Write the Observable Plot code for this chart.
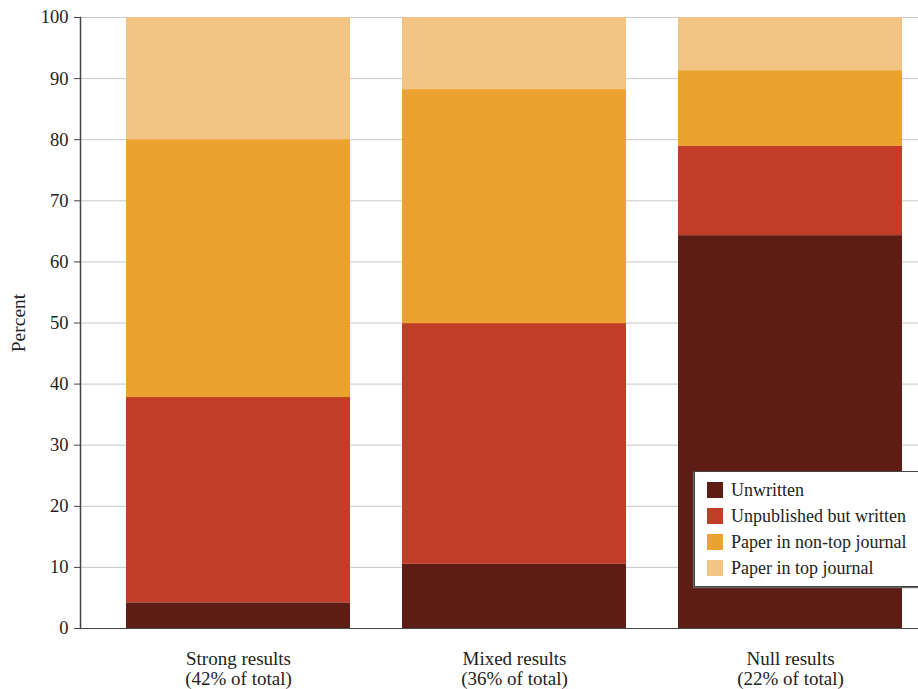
<!DOCTYPE html>
<html>
<head>
<meta charset="utf-8">
<script src="https://cdn.jsdelivr.net/npm/d3@7"></script>
<script src="https://cdn.jsdelivr.net/npm/@observablehq/plot@0.6"></script>
<style>
  html, body { margin: 0; padding: 0; background: #fff; overflow: hidden; }
  #wrap { position: relative; width: 918px; height: 689px; overflow: hidden; font-family: "Liberation Serif", "Times New Roman", Tinos, "DejaVu Serif", "Noto Serif", FreeSerif, Georgia, serif; }
  #legend { position: absolute; left: 694px; top: 471px; width: 240px; height: 116px; background: #fff;
            border: 1px solid #444; box-shadow: -1px 1px 1px #666; box-sizing: border-box; padding-top: 5px; }
  .row { display: flex; align-items: center; height: 26px; padding-left: 12px; font-size: 18px; color: #222; }
  .sw { width: 16px; height: 16px; margin-right: 8px; flex: none; }
</style>
</head>
<body>
<div id="wrap"></div>
<script>
const categories = ["Strong results", "Mixed results", "Null results"];
const shares = ["42%", "36%", "22%"];
const series = ["Unwritten", "Unpublished but written", "Paper in non-top journal", "Paper in top journal"];
const colors = ["#5d1d15", "#c13d27", "#eba22e", "#f3c584"];
const unwritten = [4.2, 10.5, 64.3];
const unpublished = [33.6, 39.4, 14.6];
const nonTop = [42.2, 38.3, 12.4];
const topJournal = [20.0, 11.8, 8.7];
const yTicks = [0, 10, 20, 30, 40, 50, 60, 70, 80, 90, 100];

const valuesBySeries = [unwritten, unpublished, nonTop, topJournal];
const data = [];
series.forEach((s, si) => categories.forEach((c, ci) => data.push({category: c, series: s, value: valuesBySeries[si][ci]})));
const labelOf = Object.fromEntries(categories.map((c, i) => [c, `${c}\n(${shares[i]} of total)`]));

const font = "'Liberation Serif', 'Times New Roman', Tinos, 'DejaVu Serif', 'Noto Serif', FreeSerif, Georgia, serif";
const chart = Plot.plot({
  width: 918,
  height: 689,
  marginTop: 17,
  marginBottom: 61,
  marginLeft: 80,
  marginRight: 0,
  style: {fontFamily: font, fontSize: "18px", color: "#222", background: "#fff"},
  x: {domain: categories, paddingInner: 0.19, paddingOuter: 0.11, align: 0.74, label: null},
  y: {domain: [0, 100], ticks: yTicks, label: null},
  color: {domain: series, range: colors},
  marks: [
    Plot.gridY(yTicks, {stroke: "#c8c8c8", strokeOpacity: 1, strokeWidth: 1}),
    Plot.barY(data, {x: "category", y: "value", fill: "series", order: series}),
    Plot.ruleY([0], {stroke: "#444", strokeWidth: 1.2}),
    Plot.frame({anchor: "left", stroke: "#444", strokeWidth: 1.5}),
    Plot.axisY(yTicks, {tickSize: 6, tickPadding: 6, stroke: "#444", fontSize: 18.5, fill: "#222"}),
    Plot.axisX({tickSize: 0, tickPadding: 22, fontSize: 19, lineHeight: 1.06, tickFormat: d => labelOf[d], fill: "#222"}),
    Plot.text(["Percent"], {frameAnchor: "left", textAnchor: "middle", rotate: -90, dx: -62, fontSize: 19.5, fill: "#222"})
  ]
});
const wrap = document.getElementById("wrap");
wrap.appendChild(chart);

const legend = document.createElement("div");
legend.id = "legend";
series.forEach((s, i) => {
  const row = document.createElement("div");
  row.className = "row";
  const sw = document.createElement("span");
  sw.className = "sw";
  sw.style.background = colors[i];
  const t = document.createElement("span");
  t.textContent = s;
  row.appendChild(sw);
  row.appendChild(t);
  legend.appendChild(row);
});
wrap.appendChild(legend);
</script>
</body>
</html>
